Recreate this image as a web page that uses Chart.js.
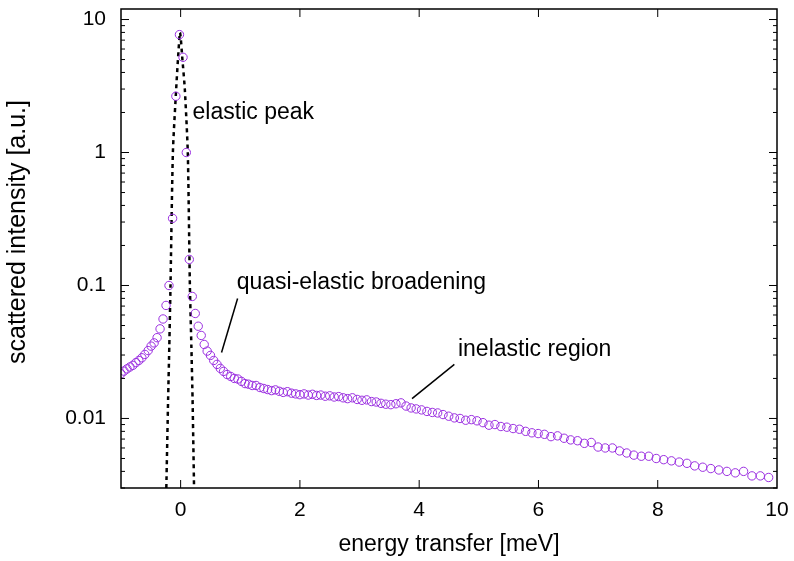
<!DOCTYPE html>
<html>
<head>
<meta charset="utf-8">
<script src="https://cdn.jsdelivr.net/npm/chart.js@4.4.0/dist/chart.umd.min.js"></script>
<style>
  html, body { margin: 0; padding: 0; background: #fff; }
</style>
</head>
<body>
<canvas id="spectrum" width="794" height="561"></canvas>
<script>
// measured spectrum: energy transfer [meV] and scattered intensity [a.u.]
const energy = [
  -1.00, -0.95, -0.90, -0.85, -0.80, -0.75, -0.70, -0.65, -0.60, -0.545, -0.495, -0.445, -0.395, -0.345, -0.295, -0.245,
  -0.195, -0.135, -0.08, -0.02, 0.04, 0.095, 0.145,
  0.195, 0.245, 0.295, 0.345, 0.395, 0.445, 0.50, 0.555, 0.61, 0.665, 0.72, 0.78, 0.84, 0.90, 0.96,
  1.02, 1.08, 1.14, 1.20, 1.265, 1.33, 1.395, 1.46, 1.525, 1.59, 1.655, 1.72, 1.79, 1.86, 1.93,
  2.00, 2.07, 2.14, 2.21, 2.28, 2.35, 2.425, 2.50, 2.575, 2.65, 2.725, 2.80, 2.88, 2.96,
  3.04, 3.12, 3.20, 3.28, 3.36, 3.44, 3.525, 3.61, 3.695, 3.78, 3.865, 3.95,
  4.04, 4.13, 4.22, 4.31, 4.40, 4.495, 4.59, 4.685, 4.78, 4.875, 4.97,
  5.07, 5.17, 5.27, 5.37, 5.47, 5.575, 5.68, 5.785, 5.89, 5.995,
  6.10, 6.21, 6.32, 6.43, 6.54, 6.655, 6.77, 6.885, 7.00, 7.12, 7.24, 7.36, 7.48, 7.60, 7.725, 7.85, 7.975,
  8.10, 8.23, 8.36, 8.49, 8.62, 8.755, 8.89, 9.025, 9.16, 9.30, 9.44, 9.58, 9.72, 9.86
];
const intensity = [
  0.0217, 0.0227, 0.0236, 0.0244, 0.0251, 0.0263, 0.0273, 0.0286, 0.0303, 0.0324, 0.035, 0.037, 0.0405, 0.0472, 0.056, 0.0708,
  0.1, 0.32, 2.65, 7.7, 5.2, 1.0, 0.157,
  0.0827, 0.0616, 0.0494, 0.0421, 0.036, 0.0321, 0.0298, 0.0273, 0.0255, 0.0238, 0.0226, 0.0214, 0.0207, 0.0200, 0.0198,
  0.0190, 0.0183, 0.0181, 0.0177, 0.0177, 0.0171, 0.0168, 0.0165, 0.0162, 0.0164, 0.0160, 0.0157, 0.0159, 0.0155, 0.0153,
  0.0151, 0.0153, 0.0150, 0.0152, 0.0149, 0.0150, 0.0147, 0.0148, 0.0145, 0.0146, 0.0143, 0.0141, 0.0143, 0.0139,
  0.0137, 0.0138, 0.0134, 0.0133, 0.0130, 0.0128, 0.0127, 0.0129, 0.0131, 0.0124, 0.0120, 0.0118,
  0.0116, 0.0113, 0.0111, 0.0110, 0.0107, 0.0104, 0.0101, 0.0100, 0.0097, 0.0098, 0.0096,
  0.0093, 0.0089, 0.0090, 0.0087, 0.0086, 0.0084, 0.0083, 0.0080, 0.0078, 0.0077,
  0.0076, 0.0073, 0.0074, 0.0071, 0.0069, 0.0068, 0.0065, 0.0066, 0.0061, 0.0060, 0.0060, 0.0057, 0.0055, 0.0053, 0.0052, 0.0052, 0.0050,
  0.0049, 0.0048, 0.0047, 0.0046, 0.0044, 0.0043, 0.0042, 0.0041, 0.0040, 0.0039, 0.0040, 0.0037, 0.0037, 0.0036
];

// dotted elastic line
const fitEnergy = [-0.24, -0.21, -0.19, -0.17, -0.13, -0.075, -0.045, -0.01, 0.03, 0.07, 0.12, 0.155, 0.18, 0.20, 0.225];
const fitIntensity = [0.003, 0.014, 0.035, 0.1, 1, 3, 5, 8, 5, 3, 1, 0.1, 0.035, 0.014, 0.003];

const xTicks = [0, 2, 4, 6, 8, 10];
const yTicks = [0.01, 0.1, 1, 10];

const notes = [
  { text: 'elastic peak', x: 0.2, y: 2.0 },
  { text: 'quasi-elastic broadening', x: 0.94, y: 0.105, from: [0.955, 0.0798], to: [0.686, 0.0313] },
  { text: 'inelastic region', x: 4.65, y: 0.033, from: [4.59, 0.0255], to: [3.88, 0.0141] }
];

const fontFamily = '"Liberation Sans", Arial, sans-serif';

// gnuplot style frame, inward ticks, labels
const framePlugin = {
  id: 'frame',
  afterDatasetsDraw(chart) {
    const { ctx, chartArea: a, scales: { x, y } } = chart;
    ctx.save();
    ctx.strokeStyle = '#000';
    ctx.lineWidth = 1;
    ctx.beginPath();
    xTicks.forEach(v => {
      const px = x.getPixelForValue(v);
      if (px <= a.left + 1 || px >= a.right - 1) return;
      ctx.moveTo(px, a.bottom); ctx.lineTo(px, a.bottom - 8);
      ctx.moveTo(px, a.top); ctx.lineTo(px, a.top + 8);
    });
    for (let d = -3; d <= 1; d++) {
      for (let m = 1; m <= 9; m++) {
        const v = m * Math.pow(10, d);
        if (v < y.min || v > y.max) continue;
        const py = y.getPixelForValue(v);
        const len = m === 1 ? 8 : 4;
        ctx.moveTo(a.left, py); ctx.lineTo(a.left + len, py);
        ctx.moveTo(a.right, py); ctx.lineTo(a.right - len, py);
      }
    }
    ctx.stroke();

    ctx.lineWidth = 1.5;
    ctx.strokeRect(a.left, a.top, a.right - a.left, a.bottom - a.top);

    // annotations
    ctx.fillStyle = '#000';
    ctx.font = '23px ' + fontFamily;
    ctx.textAlign = 'left';
    ctx.textBaseline = 'middle';
    notes.forEach(n => {
      ctx.fillText(n.text, x.getPixelForValue(n.x), y.getPixelForValue(n.y));
      if (n.from) {
        ctx.beginPath();
        ctx.moveTo(x.getPixelForValue(n.from[0]), y.getPixelForValue(n.from[1]));
        ctx.lineTo(x.getPixelForValue(n.to[0]), y.getPixelForValue(n.to[1]));
        ctx.stroke();
      }
    });

    // axis titles
    ctx.textAlign = 'center';
    ctx.fillText('energy transfer [meV]', (a.left + a.right) / 2, 545);
    ctx.font = '25px ' + fontFamily;
    ctx.translate(18, 232);
    ctx.rotate(-Math.PI / 2);
    ctx.fillText('scattered intensity [a.u.]', 0, 0);
    ctx.restore();
  }
};

const noPad = s => { s.paddingTop = 0; s.paddingBottom = 0; s.paddingLeft = 0; s.paddingRight = 0; };

new Chart(document.getElementById('spectrum'), {
  type: 'scatter',
  data: {
    datasets: [
      {
        label: 'data',
        data: energy.map((e, i) => ({ x: e, y: intensity[i] })),
        pointStyle: 'circle',
        pointRadius: 4.2,
        borderColor: '#9a2ee0',
        backgroundColor: 'rgba(0,0,0,0)',
        borderWidth: 1,
        showLine: false
      },
      {
        label: 'elastic',
        data: fitEnergy.map((e, i) => ({ x: e, y: fitIntensity[i] })),
        showLine: true,
        pointRadius: 0,
        borderColor: '#000',
        borderWidth: 2.5,
        borderDash: [4, 4],
        tension: 0.2
      }
    ]
  },
  options: {
    responsive: false,
    animation: false,
    devicePixelRatio: 1,
    layout: { padding: { top: 9, right: 17, left: 0, bottom: 0 } },
    plugins: { legend: { display: false }, tooltip: { enabled: false } },
    scales: {
      x: {
        type: 'linear',
        min: -1,
        max: 10,
        grid: { display: false, drawTicks: false },
        border: { display: false },
        afterBuildTicks: s => { s.ticks = xTicks.map(v => ({ value: v })); },
        afterFit: s => { s.height = 73; noPad(s); },
        ticks: { color: '#000', padding: 10, maxRotation: 0, font: { family: fontFamily, size: 21 } }
      },
      y: {
        type: 'logarithmic',
        min: 0.003,
        max: 12,
        grid: { display: false, drawTicks: false },
        border: { display: false },
        afterBuildTicks: s => { s.ticks = yTicks.map(v => ({ value: v })); },
        afterFit: s => { s.width = 121; noPad(s); },
        ticks: {
          color: '#000',
          padding: 15,
          font: { family: fontFamily, size: 21 },
          callback: v => String(v)
        }
      }
    }
  },
  plugins: [framePlugin]
});
</script>
</body>
</html>
